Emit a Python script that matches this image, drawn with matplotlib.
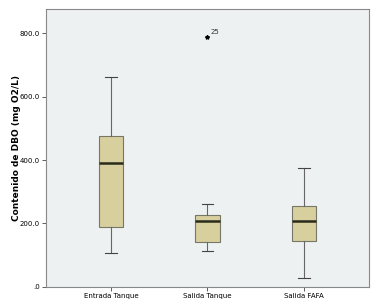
import matplotlib
matplotlib.use("Agg")
import matplotlib.pyplot as plt

# box statistics
groups = ["Entrada Tanque", "Salida Tanque", "Salida FAFA"]
whislo = [105, 113, 26]
q1 = [189, 140, 144]
med = [390, 206, 206]
q3 = [476, 227, 254]
whishi = [662, 260, 375]
fliers = [[], [788], []]
flier_ids = [[], ["25"], []]

yticks = [0, 200, 400, 600, 800]
ytick_labels = [".0", "200.0", "400.0", "600.0", "800.0"]

stats = []
for i, g in enumerate(groups):
    stats.append({"label": g, "whislo": whislo[i], "q1": q1[i], "med": med[i],
                  "q3": q3[i], "whishi": whishi[i], "fliers": fliers[i]})

fig = plt.figure(figsize=(3.81, 3.02), dpi=100)
ax = fig.add_axes([0.121, 0.051, 0.847, 0.919])
ax.set_facecolor("#eef1f2")

ax.bxp(stats, positions=[1, 2, 3], widths=0.25, patch_artist=True,
       boxprops=dict(facecolor="#d8cf9e", edgecolor="#777766", linewidth=0.8),
       medianprops=dict(color="#2a2a1a", linewidth=1.8),
       whiskerprops=dict(color="#666666", linewidth=0.8),
       capprops=dict(color="#444444", linewidth=0.8),
       capwidths=0.12,
       flierprops=dict(marker="*", markersize=3, markerfacecolor="black",
                       markeredgecolor="black"))

# outlier case labels
for i in range(len(groups)):
    for v, lab in zip(fliers[i], flier_ids[i]):
        ax.annotate(lab, (i + 1, v), xytext=(2, 2), textcoords="offset points",
                    fontsize=5, color="#333333")

ax.set_xlim(0.33, 3.67)
ax.set_ylim(0, 877)
ax.set_yticks(yticks)
ax.set_yticklabels(ytick_labels)
ax.tick_params(axis="both", labelsize=5, length=3, width=0.6, color="#444444",
               pad=1.5)
ax.set_ylabel("Contenido de DBO (mg O2/L)", fontsize=6.5, fontweight="bold")
ax.yaxis.set_label_coords(-0.077, 0.5)
for s in ax.spines.values():
    s.set_color("#888888")
    s.set_linewidth(0.8)

plt.savefig("out.png", dpi=100)
